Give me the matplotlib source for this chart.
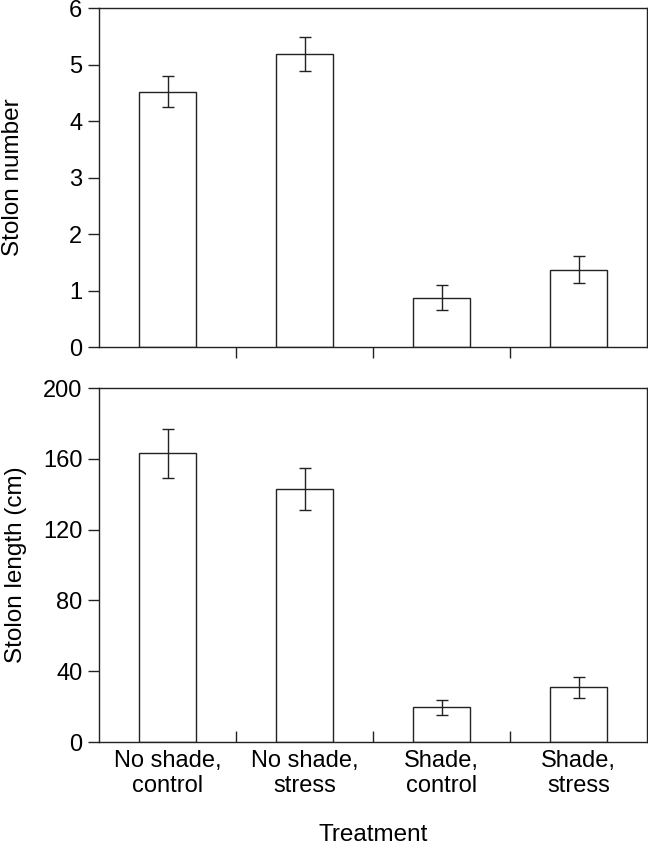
import matplotlib
matplotlib.use("Agg")
import matplotlib.pyplot as plt
import numpy as np

plt.rcParams['font.family'] = ['Liberation Sans', 'DejaVu Sans']

# data
treatments = ['No shade,\ncontrol', 'No shade,\nstress', 'Shade,\ncontrol', 'Shade,\nstress']
stolon_number = [4.52, 5.18, 0.87, 1.37]
stolon_number_err = [0.28, 0.30, 0.22, 0.24]
stolon_length = [163, 143, 19.5, 31]
stolon_length_err = [14, 12, 4, 6]

x = np.arange(len(treatments))
ink = '#222222'
lw = 1.0

fig = plt.figure(figsize=(6.48, 8.52), dpi=100)
ax1 = fig.add_axes([0.1528, 0.5927, 0.8457, 0.3979])
ax2 = fig.add_axes([0.1528, 0.1291, 0.8457, 0.4155])

for ax, vals, errs in [(ax1, stolon_number, stolon_number_err),
                       (ax2, stolon_length, stolon_length_err)]:
    ax.bar(x, vals, width=0.41, color='white', edgecolor=ink, linewidth=lw,
           yerr=errs, error_kw=dict(ecolor=ink, elinewidth=lw, capsize=4, capthick=lw))
    ax.set_xlim(-0.5, 3.5)
    for s in ax.spines.values():
        s.set_color(ink)
        s.set_linewidth(lw)
    ax.tick_params(axis='y', direction='out', length=8, width=lw, color=ink,
                   labelsize=17, pad=4)

# top panel
ax1.set_ylim(0, 6)
ax1.set_yticks(range(0, 7))
ax1.set_xticks([0.5, 1.5, 2.5])
ax1.set_xticklabels([])
ax1.tick_params(axis='x', direction='out', length=8, width=lw, color=ink)
ax1.set_ylabel('Stolon number', fontsize=17.5)
ax1.yaxis.set_label_coords(-0.136, 0.5)

# bottom panel
ax2.set_ylim(0, 200)
ax2.set_yticks(range(0, 201, 40))
ax2.set_xticks([0.5, 1.5, 2.5], minor=True)
ax2.tick_params(axis='x', which='minor', direction='in', length=8, width=lw, color=ink)
ax2.set_xticks(x)
ax2.set_xticklabels(treatments, fontsize=17, linespacing=1.2)
ax2.tick_params(axis='x', which='major', length=0, pad=5.5)
ax2.set_ylabel('Stolon length (cm)', fontsize=17.5)
ax2.yaxis.set_label_coords(-0.132, 0.5)
ax2.set_xlabel('Treatment', fontsize=17.5)
ax2.xaxis.set_label_coords(0.5, -0.232)

fig.savefig('out.png', dpi=100)
